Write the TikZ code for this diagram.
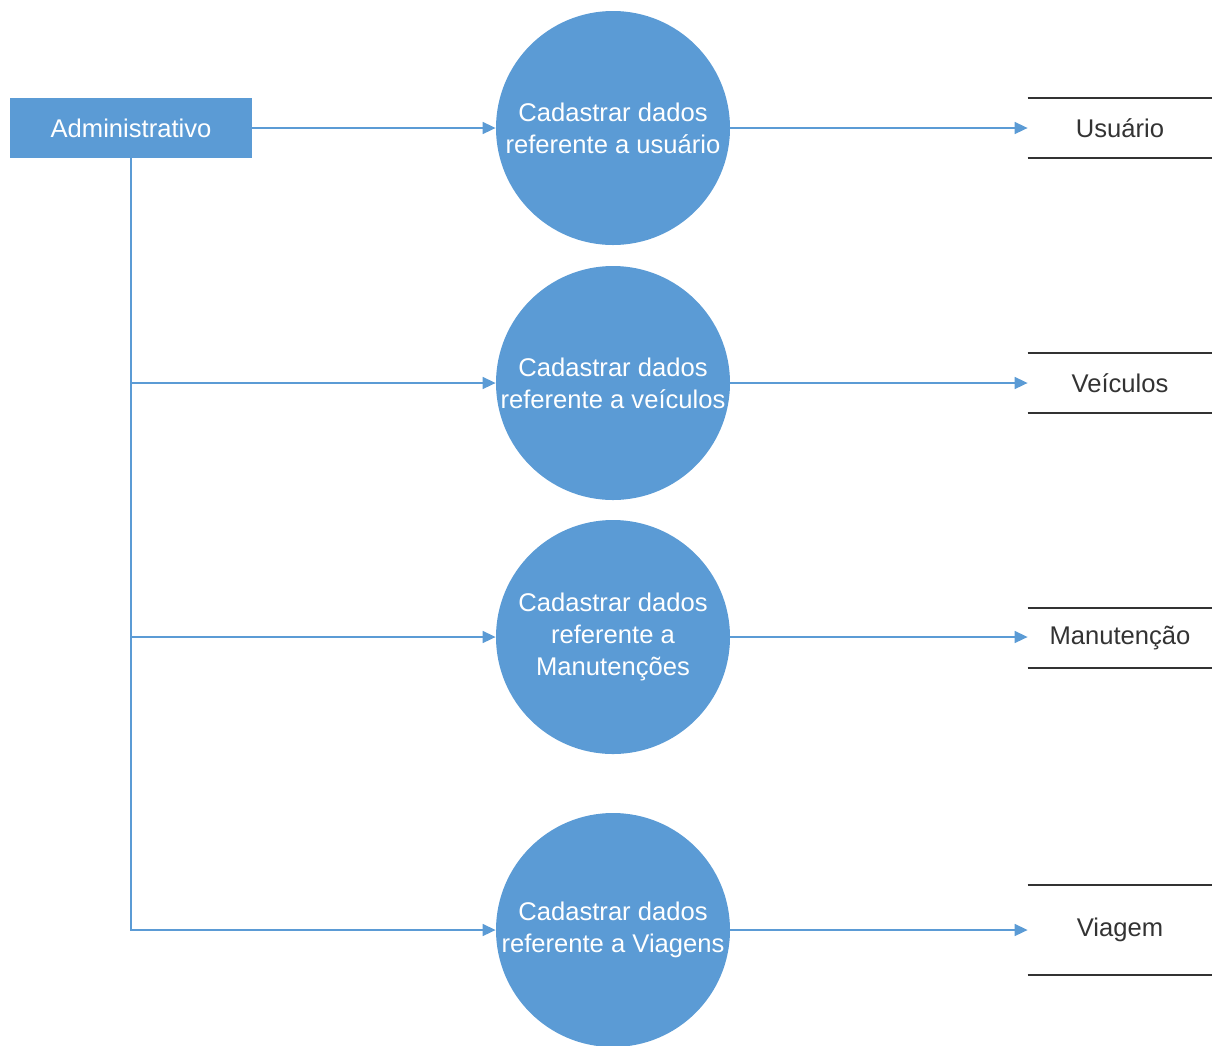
\documentclass[tikz,border=0pt]{standalone}
\usepackage{fontspec}
\setmainfont{Liberation Sans}
\usetikzlibrary{arrows.meta}
\usetikzlibrary{positioning}
\definecolor{procblue}{HTML}{5B9BD5}
\definecolor{storegray}{HTML}{333333}

\begin{document}
\begin{tikzpicture}[x=0.5pt,y=-0.5pt,>={Triangle[length=6.5pt,width=6pt]}]
				\tikzset{entity/.style = {shape=rectangle, fill=procblue, text=white, minimum width=121pt, minimum height=30pt, inner sep=0pt},
					process/.style = {shape=circle, fill=procblue, text=white, minimum size=117pt, inner sep=0pt, align=center},
					store/.style = {shape=rectangle, text=storegray, minimum width=92pt, minimum height=30pt, inner sep=0pt},
					flow/.style = {->, procblue, line width=0.8pt},
					storeline/.style = {storegray, line width=1pt}}
				\useasboundingbox (0,0) rectangle (1214,1045);
				\fontsize{12.8}{16}\selectfont
				
				\node[entity] (ADM) at (131,128) {Administrativo};
				
				\node[process] (USERPROC) at (613,128) {Cadastrar dados\\referente a usuário};
				\node[process] (VEHPROC) at (613,383) {Cadastrar dados\\referente a veículos};
				\node[process] (MAINTPROC) at (613,637) {Cadastrar dados\\referente a\\Manutenções};
				\node[process] (TRIPPROC) at (613,930) {Cadastrar dados\\referente a Viagens};
				
				\node[store] (USERDB) at (1120,128) {Usuário};
				\node[store] (VEHDB) at (1120,383) {Veículos};
				\node[store] (MAINTDB) at (1120,638) {Manutenção};
				\node[store, minimum height=45pt] (TRIPDB) at (1120,930) {Viagem};
				
				\foreach \db in {USERDB,VEHDB,MAINTDB,TRIPDB}
				{
					\draw[storeline] (\db.north west) -- (\db.north east);
					\draw[storeline] (\db.south west) -- (\db.south east);
				}
				
				\draw[flow] (ADM) -- (USERPROC);
				\draw[flow] (ADM.south) |- (TRIPPROC.west);
				\draw[flow] (ADM.south |- VEHPROC.west) -- (VEHPROC.west);
				\draw[flow] (ADM.south |- MAINTPROC.west) -- (MAINTPROC.west);
				
				\draw[flow] (USERPROC) -- (USERDB);
				\draw[flow] (VEHPROC) -- (VEHDB);
				\draw[flow] (MAINTPROC.east) -- (MAINTPROC.east -| MAINTDB.west);
				\draw[flow] (TRIPPROC) -- (TRIPDB);
				
				\end{tikzpicture}
\end{document}
